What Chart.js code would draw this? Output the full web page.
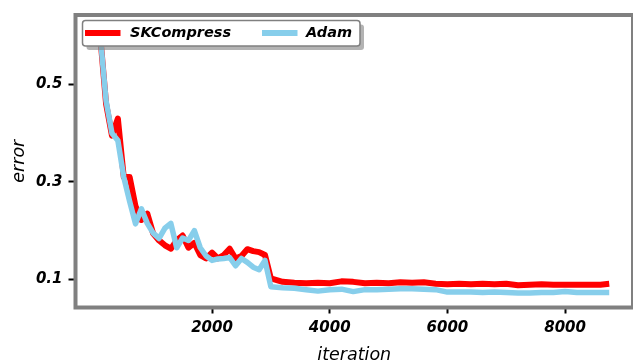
<!DOCTYPE html>
<html>
<head>
<meta charset="utf-8">
<script src="https://cdn.jsdelivr.net/npm/chart.js@4"></script>
<style>
  body { margin: 0; background: #fff; }
</style>
</head>
<body>
<canvas id="charts" width="633" height="364"></canvas>
<script>
// values
const iterations = [100, 200, 300, 400, 500, 600, 700, 800, 900, 1000,
    1100, 1200, 1300, 1400, 1500, 1600, 1700, 1800, 1900, 2000,
    2100, 2200, 2300, 2400, 2500, 2600, 2700, 2800, 2900, 3000,
    3200, 3400, 3600, 3800, 4000, 4200, 4400, 4600, 4800, 5000,
    5200, 5400, 5600, 5800, 6000, 6200, 6400, 6600, 6800, 7000,
    7200, 7400, 7600, 7800, 8000, 8200, 8400, 8600, 8750]

const skcompress = [0.60, 0.46, 0.395, 0.43, 0.31, 0.31, 0.25, 0.222, 0.235, 0.194,
    0.18, 0.17, 0.163, 0.18, 0.19, 0.165, 0.175, 0.15, 0.143, 0.155,
    0.143, 0.15, 0.163, 0.143, 0.148, 0.162, 0.158, 0.156, 0.15, 0.102,
    0.095, 0.093, 0.092, 0.093, 0.092, 0.096, 0.095, 0.092, 0.093, 0.092,
    0.094, 0.093, 0.094, 0.091, 0.09, 0.091, 0.09, 0.091, 0.09, 0.091,
    0.088, 0.089, 0.09, 0.089, 0.089, 0.089, 0.089, 0.089, 0.091]

const adam = [0.60, 0.466, 0.40, 0.385, 0.31, 0.26, 0.214, 0.245, 0.215, 0.195,
    0.184, 0.205, 0.215, 0.165, 0.185, 0.18, 0.20, 0.165, 0.148, 0.139,
    0.142, 0.143, 0.145, 0.128, 0.143, 0.135, 0.125, 0.12, 0.139, 0.085,
    0.083, 0.082, 0.079, 0.076, 0.079, 0.08, 0.075, 0.079, 0.079, 0.08,
    0.081, 0.081, 0.08, 0.079, 0.074, 0.074, 0.074, 0.073, 0.074, 0.073,
    0.072, 0.072, 0.073, 0.073, 0.075, 0.073, 0.073, 0.073, 0.073]

const xTicks = [2000, 4000, 6000, 8000]
const yTicks = [0.1, 0.3, 0.5]

const tickFont = { family: 'DejaVu Sans', size: 15, weight: 'bold', style: 'italic' }
const titleFont = { family: 'DejaVu Sans', size: 17.5, style: 'italic', lineHeight: 1 }

// gray frame around the plot
const framePlugin = {
    id: 'frame',
    afterDraw(chart) {
        const { ctx, chartArea: a } = chart
        ctx.save()
        ctx.strokeStyle = '#808080'
        ctx.lineWidth = 4
        ctx.strokeRect(a.left, a.top, a.right - a.left, a.bottom - a.top)
        ctx.restore()
    }
}

// legend box in upper left, with shadow
const legendPlugin = {
    id: 'boxLegend',
    afterDraw(chart) {
        const ctx = chart.ctx
        const x = 82.5, y = 20.5, w = 277.5, h = 25.5
        ctx.save()
        ctx.fillStyle = 'rgba(128,128,128,0.6)'
        ctx.beginPath()
        ctx.roundRect(x + 4, y + 4, w, h, 3)
        ctx.fill()
        ctx.fillStyle = '#fff'
        ctx.strokeStyle = '#808080'
        ctx.lineWidth = 1.5
        ctx.beginPath()
        ctx.roundRect(x, y, w, h, 3)
        ctx.fill()
        ctx.stroke()

        ctx.font = 'italic bold 14.5px "DejaVu Sans"'
        ctx.textBaseline = 'middle'
        const items = [
            { ds: chart.data.datasets[0], x0: 85, x1: 120.5, tx: 130 },
            { ds: chart.data.datasets[1], x0: 262, x1: 297.5, tx: 306 }
        ]
        items.forEach(it => {
            ctx.fillStyle = it.ds.borderColor
            ctx.fillRect(it.x0, 30, it.x1 - it.x0, 6)
            ctx.fillStyle = '#000'
            ctx.fillText(it.ds.label, it.tx, 33.5)
        })
        ctx.restore()
    }
}

function main()
{
    const ctx = document.getElementById('charts').getContext('2d')

    const chart = new Chart(ctx, {
        type: 'line',
        data: {
            datasets: [{
                label: 'SKCompress',
                data: iterations.map((it, i) => ({ x: it, y: skcompress[i] })),
                borderColor: '#ff0000',
                borderWidth: 6,
                order: 1
            }, {
                label: 'Adam',
                data: iterations.map((it, i) => ({ x: it, y: adam[i] })),
                borderColor: '#87ceeb',
                borderWidth: 5.5,
                order: 0
            }]
        },
        options: {
            responsive: false,
            animation: false,
            devicePixelRatio: 1,
            elements: {
                point: { radius: 0 },
                line: { tension: 0, borderJoinStyle: 'round', borderCapStyle: 'butt' }
            },
            layout: { padding: { top: 13.5, left: 0, right: 0, bottom: 0 } },
            scales: {
                x: {
                    type: 'linear',
                    min: -320,
                    max: 9154,
                    afterFit: s => { s.height = 56.5 },
                    afterBuildTicks: s => { s.ticks = xTicks.map(v => ({ value: v })) },
                    border: { display: false },
                    grid: { drawOnChartArea: false, tickLength: 6, tickColor: '#000', tickWidth: 2 },
                    ticks: {
                        autoSkip: false, maxRotation: 0, padding: 6,
                        color: '#000', font: tickFont,
                        callback: v => String(v)
                    },
                    title: { display: true, text: 'iteration', color: '#000', font: titleFont, padding: { top: 0, bottom: 0 } }
                },
                y: {
                    min: 0.0424,
                    max: 0.6424,
                    afterFit: s => { s.width = 75.5 },
                    afterBuildTicks: s => { s.ticks = yTicks.map(v => ({ value: v })) },
                    border: { display: false },
                    grid: { drawOnChartArea: false, tickLength: 7, tickColor: '#000', tickWidth: 2 },
                    ticks: {
                        autoSkip: false, padding: 6,
                        color: '#000', font: tickFont,
                        callback: v => v.toFixed(1)
                    },
                    title: { display: true, text: 'error', color: '#000', font: titleFont, padding: { top: 11, bottom: 0 } }
                }
            },
            plugins: {
                legend: { display: false },
                tooltip: { enabled: false }
            }
        },
        plugins: [framePlugin, legendPlugin]
    })
}

main()
</script>
</body>
</html>
